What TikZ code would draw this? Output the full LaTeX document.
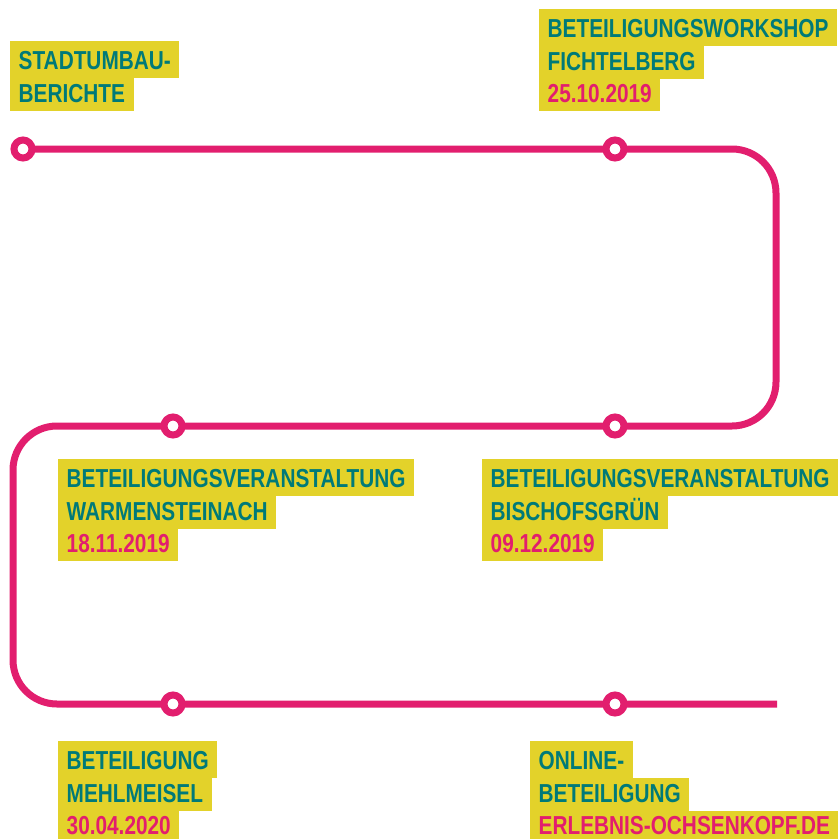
\documentclass[tikz,border=0pt]{standalone}
\usepackage{fontspec}
\setmainfont{Liberation Sans}[FakeStretch=0.8]
\usetikzlibrary{backgrounds}

\definecolor{hlyellow}{RGB}{227,210,42}
\definecolor{tealtext}{RGB}{0,122,120}
\definecolor{linepink}{RGB}{226,30,110}

\setlength{\fboxsep}{0pt}
\newcommand{\hlbox}[3]{\colorbox{hlyellow}{\rule[-8.5pt]{0pt}{#1}\hspace{8.5pt}\textcolor{#2}{#3}\hspace{8.5pt}}}
\newcommand{\hlfirst}[1]{\hlbox{37pt}{tealtext}{#1}}
\newcommand{\hlname}[1]{\hlbox{32.5pt}{tealtext}{#1}}
\newcommand{\hldate}[1]{\hlbox{32.5pt}{linepink}{#1}}

\tikzstyle{station} = [
    circle, minimum size=18pt, inner sep=0pt,
    draw=linepink, line width=7pt, fill=white
]
\tikzstyle{infobox} = [
    anchor=north west, inner sep=0pt, align=left,
    font={\bfseries\fontsize{26}{0}\selectfont\lineskip=0pt}
]
\tikzstyle{route} = [draw=linepink, line width=7pt, rounded corners=44pt]

\begin{document}
\begin{tikzpicture}[x=1pt, y=-1pt]
    \useasboundingbox (0,0) rectangle (838,839);

    \node (s1) [station] at (23,149) {};
    \node (s2) [station] at (615,149) {};
    \node (s3) [station] at (615,426) {};
    \node (s4) [station] at (173,426) {};
    \node (s5) [station] at (173,704) {};
    \node (s6) [station] at (615,704) {};

    \coordinate (c1) at (776,149);
    \coordinate (c2) at (776,426);
    \coordinate (c3) at (13,426);
    \coordinate (c4) at (13,704);
    \coordinate (end) at (777,704);

    \begin{pgfonlayer}{background}
        \draw [route] (s1.center) -- (s2.center) -- (c1) -- (c2) -- (s3.center)
            -- (s4.center) -- (c3) -- (c4) -- (s5.center) -- (s6.center) -- (end);
    \end{pgfonlayer}

    \node (info1) [infobox] at (10,41) {\hlfirst{STADTUMBAU-}\\\hlname{BERICHTE}};
    \node (info2) [infobox] at (539,9) {\hlfirst{BETEILIGUNGSWORKSHOP}\\\hlname{FICHTELBERG}\\\hldate{25.10.2019}};
    \node (info3) [infobox] at (58,459) {\hlfirst{BETEILIGUNGSVERANSTALTUNG}\\\hlname{WARMENSTEINACH}\\\hldate{18.11.2019}};
    \node (info4) [infobox] at (482,459) {\hlfirst{BETEILIGUNGSVERANSTALTUNG}\\\hlname{BISCHOFSGRÜN}\\\hldate{09.12.2019}};
    \node (info5) [infobox] at (58,741) {\hlfirst{BETEILIGUNG}\\\hlname{MEHLMEISEL}\\\hldate{30.04.2020}};
    \node (info6) [infobox] at (530,741) {\hlfirst{ONLINE-}\\\hlname{BETEILIGUNG}\\\hldate{ERLEBNIS-OCHSENKOPF.DE}};
\end{tikzpicture}
\end{document}
